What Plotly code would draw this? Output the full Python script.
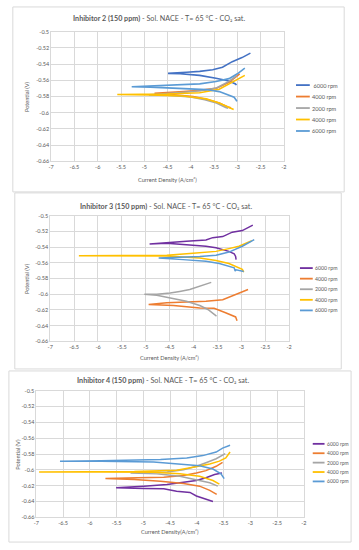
import plotly.graph_objects as go

W, H = 359, 550

# ---------------- data ----------------
X_TICKS = [-7, -6.5, -6, -5.5, -5, -4.5, -4, -3.5, -3, -2.5, -2]
X_TICK_LABELS = ["-7", "-6.5", "-6", "-5.5", "-5", "-4.5", "-4", "-3.5", "-3", "-2.5", "-2"]
Y_TICKS = [-0.5, -0.52, -0.54, -0.56, -0.58, -0.6, -0.62, -0.64, -0.66]
Y_TICK_LABELS = ["-0.5", "-0.52", "-0.54", "-0.56", "-0.58", "-0.6", "-0.62", "-0.64", "-0.66"]

# Inhibitor 2
I2_LABELS = [" 6000 rpm", "4000 rpm", "2000 rpm", "4000 rpm", "6000 rpm"]
I2_S1_X = [-2.72, -2.9, -3.11, -3.32, -3.53, -3.81, -4.09, -4.49, -4.23, -3.81, -3.46, -3.18, -3.04, -3.02]
I2_S1_Y = [-0.5265, -0.532, -0.537, -0.544, -0.547, -0.549, -0.550, -0.5515, -0.552, -0.554, -0.5575, -0.561, -0.5645, -0.566]
I2_S2_X = [-2.95, -3.18, -3.46, -3.81, -4.16, -4.78, -4.37, -3.95, -3.67, -3.39, -3.18, -3.14]
I2_S2_Y = [-0.552, -0.5625, -0.570, -0.5725, -0.574, -0.576, -0.578, -0.580, -0.5835, -0.588, -0.5935, -0.594]
I2_S3_X = [-3.02, -3.2, -3.45, -3.8, -4.2, -4.6, -4.9, -4.5, -4.0, -3.7, -3.45, -3.25, -3.2]
I2_S3_Y = [-0.5545, -0.562, -0.5695, -0.573, -0.575, -0.577, -0.578, -0.5785, -0.5805, -0.584, -0.588, -0.5935, -0.5945]
I2_S4_X = [-2.84, -3.11, -3.39, -3.81, -4.51, -5.58, -4.87, -4.16, -3.67, -3.39, -3.18, -3.08]
I2_S4_Y = [-0.554, -0.5625, -0.571, -0.5755, -0.577, -0.5776, -0.578, -0.5795, -0.583, -0.588, -0.5935, -0.596]
I2_S5_X = [-2.84, -3.0, -3.18, -3.46, -3.81, -4.51, -5.27, -4.87, -4.16, -3.67, -3.39, -3.18, -3.07, -3.02, -3.01]
I2_S5_Y = [-0.545, -0.552, -0.558, -0.5615, -0.5645, -0.566, -0.568, -0.5685, -0.570, -0.5715, -0.574, -0.578, -0.581, -0.585, -0.586]

# Inhibitor 3
I3_LABELS = ["6000 rpm", "4000 rpm", "2000 rpm", "4000 rpm", "6000 rpm"]
I3_S1_X = [-2.76, -2.98, -3.19, -3.39, -3.60, -3.74, -4.15, -4.56, -4.92, -4.56, -4.08, -3.74, -3.53, -3.26, -3.15, -3.12, -3.11]
I3_S1_Y = [-0.512, -0.519, -0.521, -0.5267, -0.528, -0.531, -0.5326, -0.534, -0.536, -0.535, -0.5368, -0.539, -0.541, -0.5455, -0.5485, -0.552, -0.556]
I3_S2_X = [-2.86, -3.05, -3.26, -3.39, -3.74, -4.56, -4.94, -4.42, -3.87, -3.57, -3.33, -3.12, -3.09]
I3_S2_Y = [-0.594, -0.5986, -0.603, -0.607, -0.609, -0.611, -0.6132, -0.6145, -0.6175, -0.618, -0.6236, -0.629, -0.634]
I3_S3_X = [-3.63, -3.87, -4.08, -4.29, -4.49, -4.77, -5.03, -4.77, -4.42, -4.15, -3.87, -3.70, -3.52]
I3_S3_Y = [-0.585, -0.590, -0.594, -0.5965, -0.5986, -0.600, -0.600, -0.6015, -0.6057, -0.609, -0.6145, -0.6195, -0.628]
I3_S4_X = [-2.78, -3.05, -3.26, -3.53, -4.01, -4.56, -6.40, -5.25, -4.56, -3.87, -3.53, -3.26, -2.98, -2.95]
I3_S4_Y = [-0.532, -0.539, -0.542, -0.5455, -0.548, -0.5505, -0.551, -0.551, -0.5514, -0.554, -0.557, -0.561, -0.5685, -0.572]
I3_S5_X = [-2.73, -2.98, -3.26, -3.53, -3.87, -4.73, -4.22, -3.74, -3.46, -3.26, -3.15, -3.13, -3.11, -2.95]
I3_S5_Y = [-0.5305, -0.539, -0.5464, -0.5505, -0.552, -0.554, -0.556, -0.558, -0.561, -0.5643, -0.5665, -0.5705, -0.569, -0.571]

# Inhibitor 4
I4_LABELS = ["6000 rpm", "4000 rpm", "2000 rpm", "4000 rpm", "6000 rpm"]
I4_S1_X = [-3.53, -3.67, -3.83, -4.01, -4.25, -4.56, -4.99, -5.51, -4.99, -4.62, -4.38, -4.13, -4.01, -3.83, -3.70]
I4_S1_Y = [-0.604, -0.606, -0.610, -0.6135, -0.6156, -0.6185, -0.6206, -0.6227, -0.6235, -0.624, -0.627, -0.6285, -0.633, -0.6366, -0.640]
I4_S2_X = [-3.52, -3.64, -3.83, -4.01, -4.25, -4.62, -5.11, -5.71, -5.17, -4.68, -4.25, -3.95, -3.76, -3.63]
I4_S2_Y = [-0.5905, -0.5955, -0.601, -0.604, -0.607, -0.6093, -0.610, -0.611, -0.6123, -0.6143, -0.6173, -0.6206, -0.626, -0.631]
I4_S3_X = [-3.47, -3.64, -3.83, -4.01, -4.25, -4.56, -5.24, -4.75, -4.32, -4.01, -3.76, -3.61]
I4_S3_Y = [-0.5796, -0.586, -0.591, -0.5955, -0.600, -0.6026, -0.604, -0.605, -0.608, -0.6123, -0.6164, -0.6206]
I4_S4_X = [-3.38, -3.46, -3.58, -3.76, -4.07, -4.38, -5.17, -6.95, -5.79, -4.81, -4.32, -3.95, -3.70, -3.58]
I4_S4_Y = [-0.5775, -0.585, -0.589, -0.5925, -0.5967, -0.6005, -0.602, -0.6026, -0.6026, -0.603, -0.605, -0.608, -0.6135, -0.618]
I4_S5_X = [-3.38, -3.52, -3.64, -3.89, -4.19, -4.68, -5.79, -6.56, -5.79, -4.81, -4.32, -3.95, -3.70, -3.55, -3.49]
I4_S5_Y = [-0.569, -0.5725, -0.5775, -0.582, -0.585, -0.587, -0.5884, -0.589, -0.5892, -0.590, -0.5925, -0.5947, -0.599, -0.605, -0.611]

TITLES = [
    "<b>Inhibitor 2 (150 ppm)</b> - Sol. NACE - T= 65 °C - CO₂ sat.",
    "<b>Inhibitor 3 (150 ppm)</b> - Sol. NACE - T= 65 °C - CO₂ sat.",
    "<b>Inhibitor 4 (150 ppm)</b> - Sol. NACE - T= 65 °C - CO₂ sat.",
]
X_TITLES = ["Current Density (A/cm²)", "Current Density (A/cm²)", "Current Density(A/cm²)"]
Y_TITLE = "Potential (V)"

# ---------------- styling ----------------
C_DBLUE, C_ORANGE, C_GRAY, C_YELLOW, C_LBLUE, C_PURPLE = (
    "#4472C4", "#ED7D31", "#A5A5A5", "#FFC000", "#5B9BD5", "#7030A0")
TXT = "#595959"
GRID = "#D9D9D9"
FONT = "Lato"

def px(x):
    return x / W

def py(y):
    return 1 - y / H

panels = [
    dict(series=[(I2_S1_X, I2_S1_Y), (I2_S2_X, I2_S2_Y), (I2_S3_X, I2_S3_Y), (I2_S4_X, I2_S4_Y), (I2_S5_X, I2_S5_Y)],
         labels=I2_LABELS, colors=[C_DBLUE, C_ORANGE, C_GRAY, C_YELLOW, C_LBLUE], lw=1.6,
         box=(10, 4, 347, 191), plot=(49, 29, 285.7, 160), title_xy=(159, 16),
         ytitle_x=24, xtitle_y=178, leg=(298, 312, 83, 11.6), legfont=5.6),
    dict(series=[(I3_S1_X, I3_S1_Y), (I3_S2_X, I3_S2_Y), (I3_S3_X, I3_S3_Y), (I3_S4_X, I3_S4_Y), (I3_S5_X, I3_S5_Y)],
         labels=I3_LABELS, colors=[C_PURPLE, C_ORANGE, C_GRAY, C_YELLOW, C_LBLUE], lw=1.5,
         box=(12, 192, 344, 370), plot=(48, 215, 291, 342), title_xy=(165.5, 206),
         ytitle_x=24, xtitle_y=358, leg=(302, 315, 268, 10.7), legfont=5.2),
    dict(series=[(I4_S1_X, I4_S1_Y), (I4_S2_X, I4_S2_Y), (I4_S3_X, I4_S3_Y), (I4_S4_X, I4_S4_Y), (I4_S5_X, I4_S5_Y)],
         labels=I4_LABELS, colors=[C_PURPLE, C_ORANGE, C_GRAY, C_YELLOW, C_LBLUE], lw=1.5,
         box=(6, 372, 354, 545), plot=(34, 392, 306, 520), title_xy=(163, 382),
         ytitle_x=14, xtitle_y=534, leg=(315, 327, 445.7, 9.5), legfont=5.0),
]

fig = go.Figure()
shapes, annotations = [], []
layout = dict(width=W, height=H, margin=dict(l=0, r=0, t=0, b=0),
              paper_bgcolor="white", plot_bgcolor="white", showlegend=False,
              font=dict(family=FONT, color=TXT))

for i, p in enumerate(panels):
    n = i + 1
    xa = "x" if n == 1 else f"x{n}"
    ya = "y" if n == 1 else f"y{n}"
    for (xs, ys), col, lab in zip(p["series"], p["colors"], p["labels"]):
        fig.add_trace(go.Scatter(x=xs, y=ys, mode="lines", name=lab, xaxis=xa, yaxis=ya,
                                 line=dict(color=col, width=p["lw"])))
    x0, y0, x1, y1 = p["plot"]
    axis_common = dict(showgrid=True, gridcolor=GRID, gridwidth=1, zeroline=False,
                       showline=True, linecolor=GRID, linewidth=1, mirror=True,
                       ticks="", tickfont=dict(size=5.5, color=TXT, family=FONT))
    layout["xaxis" if n == 1 else f"xaxis{n}"] = dict(
        domain=[px(x0), px(x1)], range=[-7, -2], tickvals=X_TICKS, ticktext=X_TICK_LABELS,
        anchor=ya, **axis_common)
    layout["yaxis" if n == 1 else f"yaxis{n}"] = dict(
        domain=[py(y1), py(y0)], range=[-0.66, -0.5], tickvals=Y_TICKS, ticktext=Y_TICK_LABELS,
        anchor=xa, **axis_common)
    bx0, by0, bx1, by1 = p["box"]
    shapes.append(dict(type="rect", xref="paper", yref="paper", x0=px(bx0), x1=px(bx1),
                       y0=py(by1), y1=py(by0), line=dict(color=GRID, width=1), layer="below"))
    tx, ty = p["title_xy"]
    annotations.append(dict(text=TITLES[i], x=px(tx), y=py(ty), xref="paper", yref="paper",
                            showarrow=False, xanchor="center", yanchor="middle",
                            font=dict(size=7.2, color=TXT, family=FONT)))
    annotations.append(dict(text=X_TITLES[i], x=px((x0 + x1) / 2), y=py(p["xtitle_y"]),
                            xref="paper", yref="paper", showarrow=False, xanchor="center",
                            yanchor="middle", font=dict(size=5.6, color=TXT, family=FONT)))
    annotations.append(dict(text=Y_TITLE, x=px(p["ytitle_x"]), y=py((y0 + y1) / 2),
                            xref="paper", yref="paper", showarrow=False, textangle=-90,
                            xanchor="center", yanchor="middle",
                            font=dict(size=5.6, color=TXT, family=FONT)))
    lx0, lx1, ly0, dy = p["leg"]
    for k, (lab, col) in enumerate(zip(p["labels"], p["colors"])):
        yy = ly0 + k * dy
        shapes.append(dict(type="line", xref="paper", yref="paper", x0=px(lx0), x1=px(lx1),
                           y0=py(yy), y1=py(yy), line=dict(color=col, width=1.8)))
        annotations.append(dict(text=lab, x=px(lx1 + 0.5), y=py(yy), xref="paper", yref="paper",
                                showarrow=False, xanchor="left", yanchor="middle",
                                font=dict(size=p["legfont"], color=TXT, family=FONT)))

layout["shapes"] = shapes
layout["annotations"] = annotations
fig.update_layout(**layout)
fig.write_html("out.html", config={"displayModeBar": False},
               post_script="document.body.style.margin='0';document.body.style.overflow='hidden';")
